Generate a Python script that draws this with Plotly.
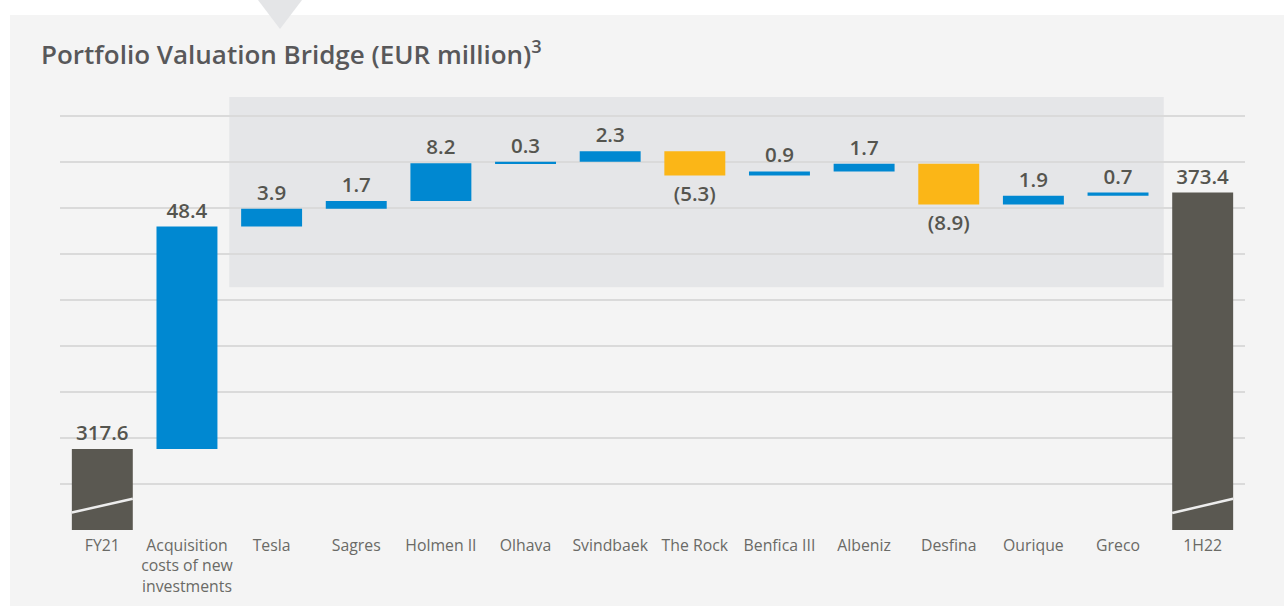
import plotly.graph_objects as go

categories = ["FY21", "Acquisition<br>costs of new<br>investments", "Tesla", "Sagres",
              "Holmen II", "Olhava", "Svindbaek", "The Rock", "Benfica III", "Albeniz",
              "Desfina", "Ourique", "Greco", "1H22"]
values = [317.6, 48.4, 3.9, 1.7, 8.2, 0.3, 2.3, -5.3, 0.9, 1.7, -8.9, 1.9, 0.7, 373.4]
measures = ["absolute"] + ["relative"] * 12 + ["total"]
labels = [f"({abs(v):.1f})" if v < 0 else f"{v:.1f}" for v in values]

BLUE = "#0088D1"
YELLOW = "#FBB617"
DARK = "#5A5851"
TEXT = "#55554F"
FONT = "Open Sans"

W, H = 1284, 606
L, R, T, B = 60, 39, 97, 76
pw, ph = W - L - R, H - T - B

def px(x):
    return (x - L) / pw

def py(y):
    return (H - B - y) / ph

fig = go.Figure(go.Waterfall(
    x=categories,
    y=values,
    measure=measures,
    width=0.72,
    text=labels,
    textposition="outside",
    textfont=dict(family=FONT, size=20.5, color=TEXT, weight=600),
    increasing=dict(marker=dict(color=BLUE)),
    decreasing=dict(marker=dict(color=YELLOW)),
    totals=dict(marker=dict(color=DARK)),
    connector=dict(visible=False),
    cliponaxis=False,
    hoverinfo="skip",
))

shapes = [
    # white margins around the panel
    dict(type="rect", xref="paper", yref="paper", x0=px(0), x1=px(W), y0=py(15), y1=py(0),
         fillcolor="white", line_width=0, layer="below"),
    dict(type="rect", xref="paper", yref="paper", x0=px(0), x1=px(10), y0=py(H), y1=py(0),
         fillcolor="white", line_width=0, layer="below"),
    # pointer triangle
    dict(type="path", xref="paper", yref="paper",
         path=f"M {px(258)},{py(0)} L {px(302)},{py(0)} L {px(280)},{py(29)} Z",
         fillcolor="#E4E5E7", line_width=0, layer="below"),
    # highlighted zone
    dict(type="rect", xref="x", yref="y", x0=1.5, x1=12.54, y0=352.8, y1=394.2,
         fillcolor="#E5E6E8", line_width=0, layer="below"),
    # axis-break marks
    dict(type="line", xref="x", yref="y", x0=-0.36, x1=0.36, y0=303.8, y1=306.8,
         line=dict(color="#EDEDED", width=2.5), layer="above"),
    dict(type="line", xref="x", yref="y", x0=12.64, x1=13.36, y0=303.7, y1=306.8,
         line=dict(color="#EDEDED", width=2.5), layer="above"),
]

fig.update_layout(
    width=W, height=H,
    margin=dict(l=L, r=R, t=T, b=B),
    paper_bgcolor="#F4F4F4",
    plot_bgcolor="rgba(0,0,0,0)",
    showlegend=False,
    shapes=shapes,
    title=dict(
        text="Portfolio Valuation Bridge (EUR million)<sup>3</sup>",
        x=41 / W, xanchor="left", xref="container",
        y=1 - 55 / H, yanchor="middle", yref="container",
        font=dict(family=FONT, size=26, color="#58585A", weight=600),
    ),
    xaxis=dict(
        showgrid=False, zeroline=False, showline=False, automargin=False,
        tickfont=dict(family=FONT, size=15.8, color="#6A6A66"),
        ticks="", fixedrange=True, ticklabelstandoff=4,
    ),
    yaxis=dict(
        range=[300, 394.2], dtick=10, tick0=300, automargin=False,
        showgrid=True, gridcolor="#DADADA", gridwidth=2,
        zeroline=False, showline=False, showticklabels=False, ticks="",
        fixedrange=True,
    ),
)

fig.write_html("out.html", config={"displayModeBar": False},
               post_script="document.body.style.margin='0';document.body.style.overflow='hidden';")
